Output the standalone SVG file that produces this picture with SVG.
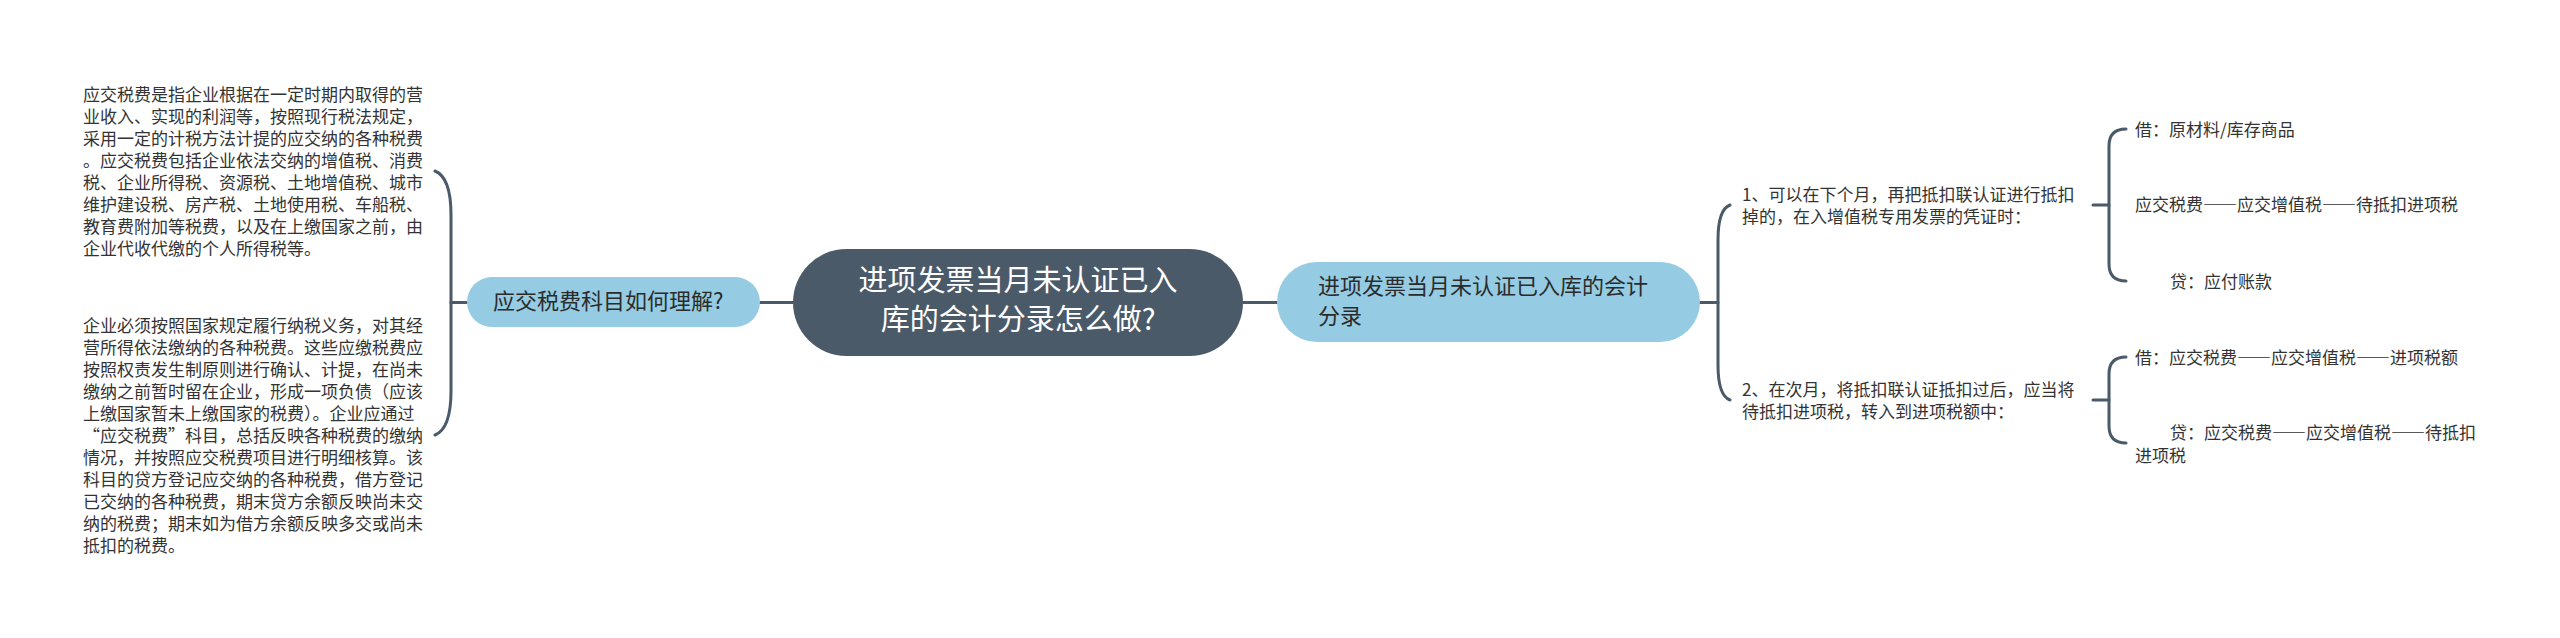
<svg xmlns="http://www.w3.org/2000/svg" width="2560" height="638" viewBox="0 0 2560 638">
<style>
  text { font-family: "Noto Sans CJK SC", "Noto Sans", sans-serif; }
  .body { font-size: 17px; fill: #333333; }
  .dash { font-feature-settings: "fwid" 1; }
  .sub { font-size: 22px; fill: #2b2b2b; }
  .root { font-size: 29px; fill: #ffffff; }
  .line { fill: none; stroke: #4b5a69; stroke-width: 3; stroke-linecap: round; }
  .blue { fill: #95cbe3; }
  .dark { fill: #4b5a69; }
</style>
<rect width="2560" height="638" fill="#ffffff"/>
<g id="connectors">
  <path class="line" d="M760,302.5 L793,302.5"/>
  <path class="line" d="M1243,302.5 L1277,302.5"/>
  <path class="line" d="M451,302.5 L467,302.5"/>
  <path class="line" d="M435,171 C445,175 451,190 451,215 L451,391 C451,416 445,431 435,435"/>
  <path class="line" d="M1700,302.5 L1718,302.5"/>
  <path class="line" d="M1730,205 C1722,208 1718,220 1718,240 L1718,365 C1718,385 1722,397 1730,400"/>
  <path class="line" d="M2093,205 L2109,205"/>
  <path class="line" d="M2126,129 Q2109,129 2109,146 L2109,264 Q2109,281 2126,281"/>
  <path class="line" d="M2093,400 L2109,400"/>
  <path class="line" d="M2126,357 Q2109,357 2109,374 L2109,426 Q2109,443 2126,443"/>
</g>
<g id="root">
  <rect class="dark" x="793" y="249" width="450" height="107" rx="53.5"/>
  <text class="root" x="1018" y="291" text-anchor="middle">进项发票当月未认证已入</text>
  <text class="root" x="1018" y="330" text-anchor="middle">库的会计分录怎么做?</text>
</g>
<g id="left-topic">
  <rect class="blue" x="467" y="277" width="293" height="50" rx="25"/>
  <text class="sub" x="493" y="309">应交税费科目如何理解?</text>
</g>
<g id="right-topic">
  <rect class="blue" x="1277" y="262" width="423" height="80" rx="40"/>
  <text class="sub" x="1318" y="294">进项发票当月未认证已入库的会计</text>
  <text class="sub" x="1318" y="323.5">分录</text>
</g>
<g id="left-text-1">
  <text class="body" x="83" y="101">应交税费是指企业根据在一定时期内取得的营</text>
  <text class="body" x="83" y="123">业收入、实现的利润等，按照现行税法规定，</text>
  <text class="body" x="83" y="145">采用一定的计税方法计提的应交纳的各种税费</text>
  <text class="body" x="83" y="167">。应交税费包括企业依法交纳的增值税、消费</text>
  <text class="body" x="83" y="189">税、企业所得税、资源税、土地增值税、城市</text>
  <text class="body" x="83" y="211">维护建设税、房产税、土地使用税、车船税、</text>
  <text class="body" x="83" y="233">教育费附加等税费，以及在上缴国家之前，由</text>
  <text class="body" x="83" y="255">企业代收代缴的个人所得税等。</text>
</g>
<g id="left-text-2">
  <text class="body" x="83" y="332">企业必须按照国家规定履行纳税义务，对其经</text>
  <text class="body" x="83" y="354">营所得依法缴纳的各种税费。这些应缴税费应</text>
  <text class="body" x="83" y="376">按照权责发生制原则进行确认、计提，在尚未</text>
  <text class="body" x="83" y="398">缴纳之前暂时留在企业，形成一项负债（应该</text>
  <text class="body" x="83" y="420">上缴国家暂未上缴国家的税费）。企业应通过</text>
  <text class="body" x="83" y="442">“应交税费”科目，总括反映各种税费的缴纳</text>
  <text class="body" x="83" y="464">情况，并按照应交税费项目进行明细核算。该</text>
  <text class="body" x="83" y="486">科目的贷方登记应交纳的各种税费，借方登记</text>
  <text class="body" x="83" y="508">已交纳的各种税费，期末贷方余额反映尚未交</text>
  <text class="body" x="83" y="530">纳的税费；期末如为借方余额反映多交或尚未</text>
  <text class="body" x="83" y="552">抵扣的税费。</text>
</g>
<g id="step-1">
  <text class="body" x="1742" y="201">1、可以在下个月，再把抵扣联认证进行抵扣</text>
  <text class="body" x="1742" y="223">掉的，在入增值税专用发票的凭证时：</text>
</g>
<g id="step-2">
  <text class="body" x="1742" y="396">2、在次月，将抵扣联认证抵扣过后，应当将</text>
  <text class="body" x="1742" y="418">待抵扣进项税，转入到进项税额中：</text>
</g>
<g id="entry-1a">
  <text class="body" x="2135" y="136">借：原材料/库存商品</text>
</g>
<g id="entry-1b">
  <text class="body" x="2135" y="211">应交税费<tspan class="dash">——</tspan>应交增值税<tspan class="dash">——</tspan>待抵扣进项税</text>
</g>
<g id="entry-1c">
  <text class="body" x="2170" y="288">贷：应付账款</text>
</g>
<g id="entry-2a">
  <text class="body" x="2135" y="364">借：应交税费<tspan class="dash">——</tspan>应交增值税<tspan class="dash">——</tspan>进项税额</text>
</g>
<g id="entry-2b">
  <text class="body" x="2170" y="439">贷：应交税费<tspan class="dash">——</tspan>应交增值税<tspan class="dash">——</tspan>待抵扣</text>
  <text class="body" x="2135" y="462">进项税</text>
</g>
</svg>
